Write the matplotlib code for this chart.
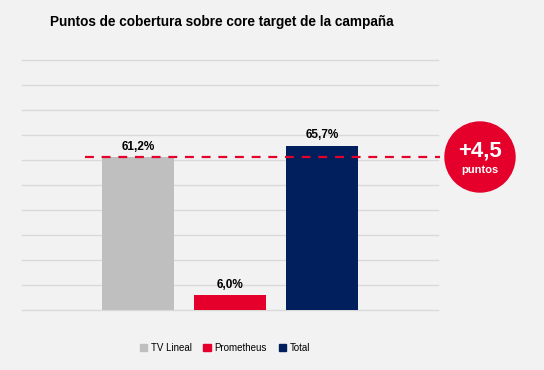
import matplotlib.pyplot as plt
from matplotlib.patches import Patch, Ellipse

plt.rcParams['font.family'] = ['Liberation Sans', 'DejaVu Sans']

# data
categories = ['TV Lineal', 'Prometheus', 'Total']
values = [61.2, 6.0, 65.7]
labels = ['61,2%', '6,0%', '65,7%']
colors = ['#bfbfbf', '#e4002b', '#001f5c']
diff_text = '+4,5'

bg = '#f2f2f2'
fig = plt.figure(figsize=(5.44, 3.70), dpi=100, facecolor=bg)
ax = fig.add_axes([22 / 544, 1 - 310 / 370, 416 / 544, 250 / 370])
ax.set_facecolor(bg)

x = list(range(len(categories)))
ax.bar(x, values, width=0.78, color=colors, zorder=3)
for xi, v, lab in zip(x, values, labels):
    ax.text(xi, v + 1.8, lab, ha='center', va='bottom', fontsize=8.5,
            fontweight='bold', color='black', zorder=5)

# dashed reference line at TV Lineal level
ax.plot([-0.576, 3.28], [values[0], values[0]], ls=(0, (4, 3.5)), lw=1.6,
        color='#e4002b', clip_on=False, zorder=4)

ax.set_xlim(-1.26, 3.26)
ax.set_ylim(0, 100)
ax.set_yticks(range(0, 101, 10))
ax.yaxis.grid(True, color='#d9d9d9', lw=1)
for gl in ax.yaxis.get_gridlines():
    gl.set_clip_on(False)
ax.set_axisbelow(True)
ax.tick_params(left=False, bottom=False, labelleft=False, labelbottom=False)
for s in ax.spines.values():
    s.set_visible(False)

fig.text(222 / 544, 1 - 22 / 370, 'Puntos de cobertura sobre core target de la campaña',
         ha='center', va='center', fontsize=9.8, fontweight='bold')

# circle badge
cx, cy, r = 480, 157, 35
fig.add_artist(Ellipse((cx / 544, 1 - cy / 370), 2 * r / 544, 2 * r / 370,
                       transform=fig.transFigure, color='#e4002b', zorder=5))
fig.text(cx / 544, 1 - 151 / 370, diff_text, ha='center', va='center',
         fontsize=16, fontweight='bold', color='white', zorder=6)
fig.text(cx / 544, 1 - 170 / 370, 'puntos', ha='center', va='center',
         fontsize=8, fontweight='bold', color='white', zorder=6)

handles = [Patch(color=c, label=l) for c, l in zip(colors, categories)]
fig.legend(handles=handles, loc='center', bbox_to_anchor=(225 / 544, 1 - 348 / 370),
           ncol=3, frameon=False, fontsize=7, handlelength=0.75, handleheight=0.75,
           handletextpad=0.4, columnspacing=1.2)

fig.savefig('out.png', dpi=100, facecolor=bg)
